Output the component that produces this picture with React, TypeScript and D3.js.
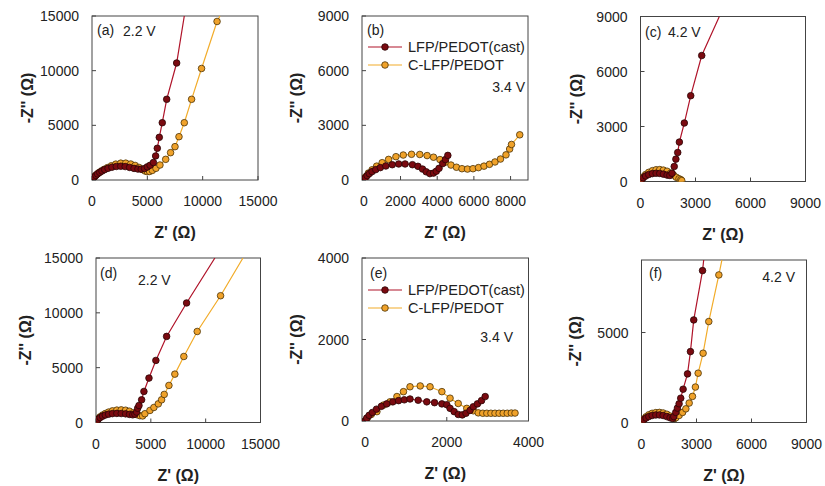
import React from "react";
import * as d3 from "d3";

type P = [number, number];

// ---------- data (Z', -Z'') ----------
const seriesNames = ["LFP/PEDOT(cast)", "C-LFP/PEDOT"];

const aRed: P[] = [[0,0],[100,150],[200,280],[350,420],[500,560],[700,700],[900,820],[1150,950],[1450,1070],[1800,1170],[2200,1240],[2600,1260],[3000,1230],[3400,1150],[3800,1060],[4150,1000],[4450,990],[4750,1050],[5000,1200],[5250,1350],[5550,1600],[5750,2200],[5900,2900],[6080,3900],[6350,5240],[6750,7380],[7650,10700]];
const aRedTail: P = [8340, 15000];
const aOrg: P[] = [[0,0],[120,180],[250,330],[400,480],[600,650],[850,830],[1100,980],[1400,1130],[1750,1300],[2150,1450],[2600,1540],[3050,1540],[3500,1460],[3900,1330],[4250,1150],[4550,960],[4800,820],[5000,760],[5200,780],[5450,880],[5780,1070],[6140,1370],[6660,1890],[7100,2500],[7500,3050],[7860,3960],[8340,5240],[9000,7380],[9900,10200],[11300,14500]];
const aOrgTail: P = [11560, 15000];

const bRed: P[] = [[0,0],[80,120],[180,240],[300,350],[450,460],[650,570],[900,680],[1200,770],[1550,840],[1900,880],[2250,880],[2650,840],[2950,750],[3200,600],[3400,450],[3600,350],[3800,380],[3950,480],[4100,640],[4300,900],[4450,1120],[4580,1350]];
const bOrg: P[] = [[0,0],[100,180],[250,380],[450,560],[700,760],[1000,950],[1350,1130],[1750,1280],[2150,1370],[2600,1410],[3050,1400],[3450,1340],[3800,1250],[4150,1120],[4450,980],[4750,820],[5050,700],[5350,620],[5650,600],[5950,620],[6250,680],[6550,760],[6850,860],[7150,990],[7450,1150],[7750,1380],[7950,1700],[8050,1950],[8500,2480]];

const cRed: P[] = [[0,0],[60,100],[150,200],[280,300],[450,380],[650,430],[850,450],[1050,440],[1250,400],[1450,350],[1600,330],[1720,450],[1840,820],[1930,1220],[2030,1580],[2120,2150],[2390,3190],[2740,4680],[3340,6870]];
const cRedTail: P = [4300, 9000];
const cOrg: P[] = [[0,0],[60,120],[150,250],[280,380],[450,500],[650,590],[850,640],[1050,650],[1250,620],[1450,560],[1650,460],[1800,350],[1950,230],[2100,150],[2200,100],[2250,50]];

const dRed: P[] = [[0,0],[80,150],[200,300],[380,450],[600,580],[850,680],[1150,760],[1500,810],[1900,830],[2300,820],[2700,790],[3050,740],[3350,700],[3550,760],[3700,950],[3800,1300],[3920,1550],[4160,2070],[4370,2830],[4830,4050],[5460,5660],[6440,7850],[8260,10900]];
const dRedTail: P = [10840, 15000];
const dOrg: P[] = [[0,0],[80,180],[200,350],[380,520],[600,680],[850,820],[1150,950],[1500,1060],[1900,1130],[2300,1150],[2700,1120],[3050,1030],[3400,880],[3700,720],[4000,620],[4250,600],[4460,800],[4920,1100],[5280,1370],[5680,1700],[5980,2070],[6220,2560],[6650,3380],[7190,4410],[8010,6020],[9230,8300],[11360,11560]];
const dOrgTail: P = [13400, 15000];

const eRed: P[] = [[0,0],[40,70],[100,140],[180,210],[280,290],[400,360],[530,420],[680,470],[820,500],[960,520],[1100,540],[1300,510],[1510,470],[1700,450],[1880,420],[2000,400],[2080,310],[2180,230],[2280,160],[2380,150],[2470,190],[2570,260],[2650,350],[2750,420],[2850,500],[2940,600]];
const eOrg: P[] = [[0,0],[60,80],[150,160],[290,230],[450,390],[610,470],[780,600],[940,720],[1100,840],[1350,860],[1590,840],[1880,720],[2080,560],[2280,430],[2490,310],[2650,250],[2770,200],[2880,190],[2980,190],[3080,190],[3180,190],[3280,190],[3380,190],[3480,190],[3580,195],[3670,195]];

const fRed: P[] = [[0,0],[50,80],[130,160],[250,250],[400,330],[580,390],[780,420],[980,420],[1180,390],[1380,330],[1560,260],[1700,220],[1760,330],[1870,560],[1960,800],[2050,1040],[2140,1350],[2270,1850],[2510,2700],[2670,3940],[2850,5700],[3330,8440]];
const fRedTail: P = [3400, 9100];
const fOrg: P[] = [[0,0],[50,100],[130,200],[250,320],[400,430],[580,510],[780,550],[980,560],[1180,530],[1380,460],[1560,360],[1700,270],[1800,220],[1870,260],[2050,390],[2240,560],[2420,760],[2600,1080],[2780,1450],[2940,1970],[3090,2740],[3360,3850],[3670,5610],[4220,8200]];
const fOrgTail: P = [4400, 9100];

const ticks15k = [0, 5000, 10000, 15000];
const ticks9k = [0, 3000, 6000, 9000];
const ticksB = [0, 2000, 4000, 6000, 8000];
const ticks4k = [0, 2000, 4000];
const ticksF = [0, 5000];

// ---------- styling ----------
const RED_LINE = "#b0142a";
const RED_FILL = "#7a0a10";
const RED_STROKE = "#2a0505";
const ORG_LINE = "#f2ac2a";
const ORG_FILL = "#f0a22a";
const ORG_STROKE = "#4a3208";
const FONT = "'Liberation Sans', Arial, sans-serif";

type Panel = {
  id: string;
  x0: number; x1: number; top: number; bottom: number;
  xDom: [number, number]; yDom: [number, number];
  xTicks: number[]; yTicks: number[];
  red: P[]; redTail?: P; org: P[]; orgTail?: P;
  label: string; labelX: number; labelY: number;
  volt: string; voltX: number; voltY: number; voltAnchor: "start" | "end";
  legend?: { x: number; y: number };
  yTitleOff: number;
};

const panels: Panel[] = [
  { id: "a", x0: 92, x1: 258, top: 16, bottom: 180, xDom: [0, 15000], yDom: [0, 15000], xTicks: ticks15k, yTicks: ticks15k,
    red: aRed, redTail: aRedTail, org: aOrg, orgTail: aOrgTail, label: "(a)", labelX: 97, labelY: 35, volt: "2.2 V", voltX: 123, voltY: 36, voltAnchor: "start", yTitleOff: 65 },
  { id: "b", x0: 362, x1: 528, top: 16, bottom: 180, xDom: [-100, 8950], yDom: [0, 9000], xTicks: ticksB, yTicks: ticks9k,
    red: bRed, org: bOrg, label: "(b)", labelX: 367, labelY: 35, volt: "3.4 V", voltX: 525, voltY: 92, voltAnchor: "end", legend: { x: 368, y: 47 }, yTitleOff: 66 },
  { id: "c", x0: 640.5, x1: 805.5, top: 16.5, bottom: 181.5, xDom: [0, 9000], yDom: [0, 9000], xTicks: ticks9k, yTicks: ticks9k,
    red: cRed, redTail: cRedTail, org: cOrg, label: "(c)", labelX: 645, labelY: 37, volt: "4.2 V", voltX: 668, voltY: 37, voltAnchor: "start", yTitleOff: 65 },
  { id: "d", x0: 96, x1: 260.5, top: 258, bottom: 422.5, xDom: [0, 15000], yDom: [0, 15000], xTicks: ticks15k, yTicks: ticks15k,
    red: dRed, redTail: dRedTail, org: dOrg, orgTail: dOrgTail, label: "(d)", labelX: 100, labelY: 278, volt: "2.2 V", voltX: 138, voltY: 285, voltAnchor: "start", yTitleOff: 71 },
  { id: "e", x0: 362, x1: 528.5, top: 258, bottom: 421, xDom: [-75, 4000], yDom: [0, 4000], xTicks: ticks4k, yTicks: ticks4k,
    red: eRed, org: eOrg, label: "(e)", labelX: 370, labelY: 278, volt: "3.4 V", voltX: 513, voltY: 342, voltAnchor: "end", legend: { x: 368, y: 290 }, yTitleOff: 66 },
  { id: "f", x0: 641.5, x1: 806.5, top: 260, bottom: 422.5, xDom: [0, 9000], yDom: [0, 9030], xTicks: ticks9k, yTicks: ticksF,
    red: fRed, redTail: fRedTail, org: fOrg, orgTail: fOrgTail, label: "(f)", labelX: 649, labelY: 278, volt: "4.2 V", voltX: 795, voltY: 282, voltAnchor: "end", yTitleOff: 67 },
];

function PanelView({ p }: { p: Panel }) {
  const x = d3.scaleLinear().domain(p.xDom).range([p.x0, p.x1]);
  const y = d3.scaleLinear().domain(p.yDom).range([p.bottom, p.top]);
  const line = d3.line<P>().x((d) => x(d[0])).y((d) => y(d[1]));
  const redLine = p.redTail ? [...p.red, p.redTail] : p.red;
  const orgLine = p.orgTail ? [...p.org, p.orgTail] : p.org;
  const clipId = `clip-${p.id}`;
  const r = 3.3;
  const cx = (p.x0 + p.x1) / 2;
  const cy = (p.top + p.bottom) / 2;
  return (
    <g>
      <defs>
        <clipPath id={clipId}>
          <rect x={p.x0} y={p.top} width={p.x1 - p.x0} height={p.bottom - p.top} />
        </clipPath>
      </defs>
      <rect x={p.x0} y={p.top} width={p.x1 - p.x0} height={p.bottom - p.top} fill="none" stroke="#444" strokeWidth={1} />
      {p.xTicks.map((t) => (
        <g key={"xt" + t}>
          <line x1={x(t)} x2={x(t)} y1={p.bottom} y2={p.bottom - 4} stroke="#444" />
          <text x={x(t)} y={p.bottom + 26} textAnchor="middle" fontSize={14} fill="#222" fontFamily={FONT}>{t}</text>
        </g>
      ))}
      {p.yTicks.map((t) => (
        <g key={"yt" + t}>
          <line x1={p.x0} x2={p.x0 + 4} y1={y(t)} y2={y(t)} stroke="#444" />
          <text x={p.x0 - 13} y={y(t) + 5} textAnchor="end" fontSize={14} fill="#222" fontFamily={FONT}>{t}</text>
        </g>
      ))}
      <g clipPath={`url(#${clipId})`}>
        <path d={line(redLine) || ""} fill="none" stroke={RED_LINE} strokeWidth={1.2} />
        <path d={line(orgLine) || ""} fill="none" stroke={ORG_LINE} strokeWidth={1.2} />
        {p.org.map((d, i) => (
          <circle key={"o" + i} cx={x(d[0])} cy={y(d[1])} r={r} fill={ORG_FILL} stroke={ORG_STROKE} strokeWidth={0.8} />
        ))}
        {p.red.map((d, i) => (
          <circle key={"r" + i} cx={x(d[0])} cy={y(d[1])} r={r} fill={RED_FILL} stroke={RED_STROKE} strokeWidth={0.8} />
        ))}
      </g>
      <text x={p.labelX} y={p.labelY} fontSize={14} fill="#222" fontFamily={FONT}>{p.label}</text>
      <text x={p.voltX} y={p.voltY} fontSize={14} fill="#222" fontFamily={FONT} textAnchor={p.voltAnchor}>{p.volt}</text>
      {p.legend && seriesNames.map((name, i) => {
        const ly = p.legend!.y + i * 18;
        return (
          <g key={name}>
            <line x1={p.legend!.x} x2={p.legend!.x + 34} y1={ly} y2={ly} stroke={i === 0 ? RED_LINE : ORG_LINE} strokeWidth={1.2} />
            <circle cx={p.legend!.x + 17} cy={ly} r={r} fill={i === 0 ? RED_FILL : ORG_FILL} stroke={i === 0 ? RED_STROKE : ORG_STROKE} strokeWidth={0.8} />
            <text x={p.legend!.x + 40} y={ly + 5} fontSize={14.5} fill="#222" fontFamily={FONT}>{name}</text>
          </g>
        );
      })}
      <text x={cx} y={p.bottom + 58} textAnchor="middle" fontSize={16} fontWeight="bold" fill="#222" fontFamily={FONT}>Z' (Ω)</text>
      <text transform={`translate(${p.x0 - p.yTitleOff},${cy}) rotate(-90)`} textAnchor="middle" dy={6} fontSize={16} fontWeight="bold" fill="#222" fontFamily={FONT}>-Z'' (Ω)</text>
    </g>
  );
}

export default function App() {
  return (
    <svg width={825} height={486} style={{ position: "absolute", left: 0, top: 0, background: "#fff" }}>
      <rect width={825} height={486} fill="#fff" />
      {panels.map((p) => <PanelView key={p.id} p={p} />)}
    </svg>
  );
}
